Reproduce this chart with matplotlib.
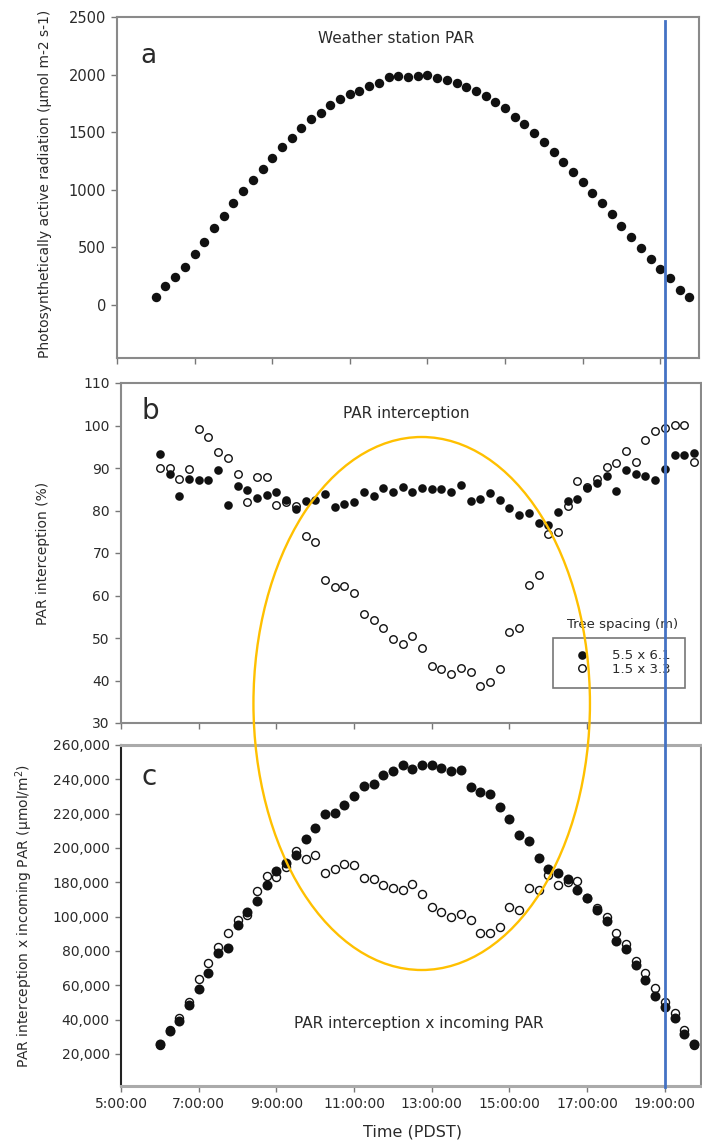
import numpy as np
import matplotlib
matplotlib.use("Agg")
import matplotlib.pyplot as plt
from matplotlib.patches import Ellipse
from matplotlib.lines import Line2D
from matplotlib.ticker import FuncFormatter

# sampling times (PDST), every 15 min
times = ["6:00", "6:15", "6:30", "6:45", "7:00", "7:15", "7:30", "7:45",
         "8:00", "8:15", "8:30", "8:45", "9:00", "9:15", "9:30", "9:45",
         "10:00", "10:15", "10:30", "10:45", "11:00", "11:15", "11:30", "11:45",
         "12:00", "12:15", "12:30", "12:45", "13:00", "13:15", "13:30", "13:45",
         "14:00", "14:15", "14:30", "14:45", "15:00", "15:15", "15:30", "15:45",
         "16:00", "16:15", "16:30", "16:45", "17:00", "17:15", "17:30", "17:45",
         "18:00", "18:15", "18:30", "18:45", "19:00", "19:15", "19:30", "19:45"]

# panel a: weather station PAR (umol m-2 s-1)
par_station = [72, 165, 240, 333, 443, 550, 665, 773, 882, 990,
               1085, 1180, 1279, 1369, 1453, 1533, 1612, 1670, 1736, 1788,
               1829, 1860, 1901, 1924, 1976, 1988, 1982, 1988, 1997, 1968,
               1953, 1924, 1889, 1860, 1814, 1765, 1707, 1635, 1571, 1496,
               1418, 1331, 1244, 1157, 1071, 975, 888, 790, 686, 587,
               492, 396, 310, 231, 130, 72]

# panel b: PAR interception (%)
icpt_wide = [93.2, 88.7, 83.5, 87.3, 87.2, 87.2, 89.5, 81.3, 85.8, 84.8,
             82.9, 83.6, 84.3, 82.5, 80.4, 82.2, 82.5, 84.0, 80.9, 81.5,
             82.1, 84.3, 83.5, 85.4, 84.4, 85.6, 84.4, 85.4, 85.1, 85.0,
             84.4, 86.0, 82.2, 82.6, 84.2, 82.5, 80.7, 78.9, 79.3, 77.0,
             76.6, 79.7, 82.2, 82.7, 85.2, 86.4, 88.2, 84.6, 89.5, 88.7,
             88.1, 87.2, 89.8, 93.1, 93.0, 93.5]
icpt_close = [90.1, 89.9, 87.4, 89.8, 99.1, 97.4, 93.8, 92.4, 88.5, 82.1,
              87.8, 87.8, 81.3, 82.0, 81.0, 74.1, 72.7, 63.6, 62.1, 62.3,
              60.5, 55.6, 54.2, 52.3, 49.8, 48.7, 50.5, 47.7, 43.5, 42.7,
              41.5, 43.0, 41.9, 38.8, 39.6, 42.7, 51.3, 52.3, 62.5, 64.8,
              74.4, 74.9, 81.0, 86.9, 85.5, 87.5, 90.3, 91.1, 94.0, 91.5,
              96.7, 98.7, 99.3, 100.1, 100.1, 91.5]

# panel c: interception x incoming PAR, in thousands, read against the
# axis as drawn (tick labels jump from 100,000 to 180,000)
prod_wide = [25.9, 33.6, 39.4, 48.6, 57.9, 67.3, 78.9, 81.8, 95.2, 102.6,
             109.0, 118.2, 126.5, 131.4, 135.7, 145.4, 151.6, 160.0, 160.5, 165.2,
             170.3, 176.1, 177.5, 182.7, 184.6, 188.5, 186.2, 188.5, 188.1, 186.6,
             184.6, 185.2, 175.5, 172.6, 171.6, 163.9, 157.1, 147.7, 143.8, 134.1,
             127.5, 125.6, 121.7, 115.3, 110.8, 103.6, 97.2, 85.5, 80.9, 71.9,
             62.8, 54.0, 47.2, 40.8, 31.7, 25.9]
prod_close = [25.1, 34.1, 41.2, 50.0, 63.4, 73.1, 82.2, 90.6, 97.8, 100.7,
              114.9, 123.6, 123.0, 129.0, 138.0, 133.3, 136.1, 125.6, 127.5, 130.8,
              130.2, 122.5, 122.1, 118.6, 116.6, 115.3, 119.1, 113.3, 105.5, 102.6,
              99.7, 101.7, 98.3, 90.6, 90.6, 93.9, 105.5, 103.6, 116.6, 115.3,
              124.4, 118.6, 120.0, 120.5, 111.0, 104.9, 99.7, 90.6, 84.2, 74.2,
              67.3, 58.3, 50.5, 43.9, 34.1, 25.3]
c_tick_pos = [20, 40, 60, 80, 100, 120, 140, 160, 180, 200]
c_tick_lab = ["20,000", "40,000", "60,000", "80,000", "100,000",
              "180,000", "200,000", "220,000", "240,000", "260,000"]

spacing_labels = ["5.5 x 6.1", "1.5 x 3.3"]

hrs = np.array([int(s.split(":")[0]) + int(s.split(":")[1]) / 60 for s in times])

W, H = 702, 1144
fig = plt.figure(figsize=(W / 100, H / 100), dpi=100)

def axes_px(l, t, r, b):
    return fig.add_axes([l / W, 1 - b / H, (r - l) / W, (b - t) / H])

ax_a = axes_px(117, 17, 699, 358)
ax_b = axes_px(121, 383, 701, 723)
ax_c = axes_px(121, 745, 701, 1086)

txt = "#2a2a2a"
for ax in (ax_a, ax_b, ax_c):
    for s in ax.spines.values():
        s.set_color("#8a8a8a")
        s.set_linewidth(1.5)
    ax.tick_params(direction="out", length=4, width=1, color="#777777",
                   labelsize=10, labelcolor=txt, pad=4, top=False, right=False)
    ax.set_xticks(range(5, 20, 2))
    ax.xaxis.set_major_formatter(FuncFormatter(lambda v, p: "%d:00:00" % round(v)))

# panel a
ax_a.plot(hrs, par_station, "o", color="#111111", ms=6.8, mec="none")
ax_a.set_xlim(5, 20)
ax_a.set_ylim(-460, 2500)
ax_a.set_yticks(range(0, 2501, 500))
ax_a.tick_params(labelbottom=False, labelsize=10.5)
ax_a.set_ylabel("Photosynthetically active radiation (µmol m-2 s-1)", fontsize=10, color=txt)
ax_a.yaxis.set_label_coords(-0.112, 0.51)
ax_a.text(0.0395, 0.865, "a", transform=ax_a.transAxes, fontsize=19, color=txt)
ax_a.text(0.479, 0.924, "Weather station PAR", transform=ax_a.transAxes,
          fontsize=11, ha="center", color=txt)

# panel b
ax_b.plot(hrs, icpt_close, "o", mfc="white", mec="#111111", mew=1.0, ms=5.4,
          zorder=2, label=spacing_labels[1])
ax_b.plot(hrs, icpt_wide, "o", color="#111111", mec="none", ms=6.2,
          zorder=3, label=spacing_labels[0])
ax_b.set_xlim(5, 19.93)
ax_b.set_ylim(30, 110)
ax_b.set_yticks(range(30, 111, 10))
ax_b.tick_params(labelbottom=False)
ax_b.set_ylabel("PAR interception (%)", fontsize=10, color=txt)
ax_b.yaxis.set_label_coords(-0.122, 0.5)
ax_b.text(0.0345, 0.894, "b", transform=ax_b.transAxes, fontsize=20, color=txt)
ax_b.text(0.491, 0.897, "PAR interception", transform=ax_b.transAxes,
          fontsize=11, ha="center", color=txt)
h, l = ax_b.get_legend_handles_labels()
leg = ax_b.legend(h[::-1], l[::-1], loc="lower left",
                  bbox_to_anchor=(0.745, 0.103, 0.227, 0.147), mode="expand",
                  fontsize=9.5, frameon=True, fancybox=False, framealpha=1,
                  edgecolor="#777777", borderpad=0.9, labelspacing=0.05,
                  handlelength=2.6, handletextpad=1.0, borderaxespad=0)
leg.get_frame().set_linewidth(1.2)
for t in leg.get_texts():
    t.set_color(txt)
ax_b.text(0.864, 0.291, "Tree spacing (m)", transform=ax_b.transAxes,
          fontsize=9.5, ha="center", va="center", color=txt)

# panel c
ax_c.plot(hrs, np.array(prod_close) * 1000, "o", mfc="white", mec="#111111",
          mew=1.0, ms=5.8, zorder=2)
ax_c.plot(hrs, np.array(prod_wide) * 1000, "o", color="#111111", mec="none",
          ms=7.2, zorder=3)
ax_c.set_xlim(5, 19.93)
ax_c.set_ylim(1300, 200000)
ax_c.set_yticks([v * 1000 for v in c_tick_pos])
ax_c.set_yticklabels(c_tick_lab)
ax_c.spines["left"].set_color("#222222")
ax_c.spines["top"].set_color("#aaaaaa")
ax_c.spines["top"].set_linewidth(2.2)
ax_c.spines["bottom"].set_color("#aaaaaa")
ax_c.spines["bottom"].set_linewidth(2.2)
ax_c.set_ylabel("PAR interception x incoming PAR (µmol/m$^2$)", fontsize=10, color=txt)
ax_c.yaxis.set_label_coords(-0.148, 0.5)
ax_c.set_xlabel("Time (PDST)", fontsize=11.5, color=txt)
ax_c.xaxis.set_label_coords(0.502, -0.114)
ax_c.text(0.036, 0.883, "c", transform=ax_c.transAxes, fontsize=20, color=txt)
ax_c.text(0.514, 0.170, "PAR interception x incoming PAR", transform=ax_c.transAxes,
          fontsize=11, ha="center", color=txt)

# highlight overlays
fig.add_artist(Ellipse((421.7 / W, 1 - 703.5 / H), 336.5 / W, 533 / H,
                       transform=fig.transFigure, fill=False,
                       edgecolor="#FFC000", lw=1.7, zorder=10))
x19 = fig.transFigure.inverted().transform(ax_c.transData.transform((19, 0)))[0]
fig.add_artist(Line2D([x19, x19], [1 - 1087 / H, 1 - 21 / H],
                      transform=fig.transFigure, color="#4472C4", lw=2.0, zorder=11))

fig.savefig("out.png", dpi=100)
